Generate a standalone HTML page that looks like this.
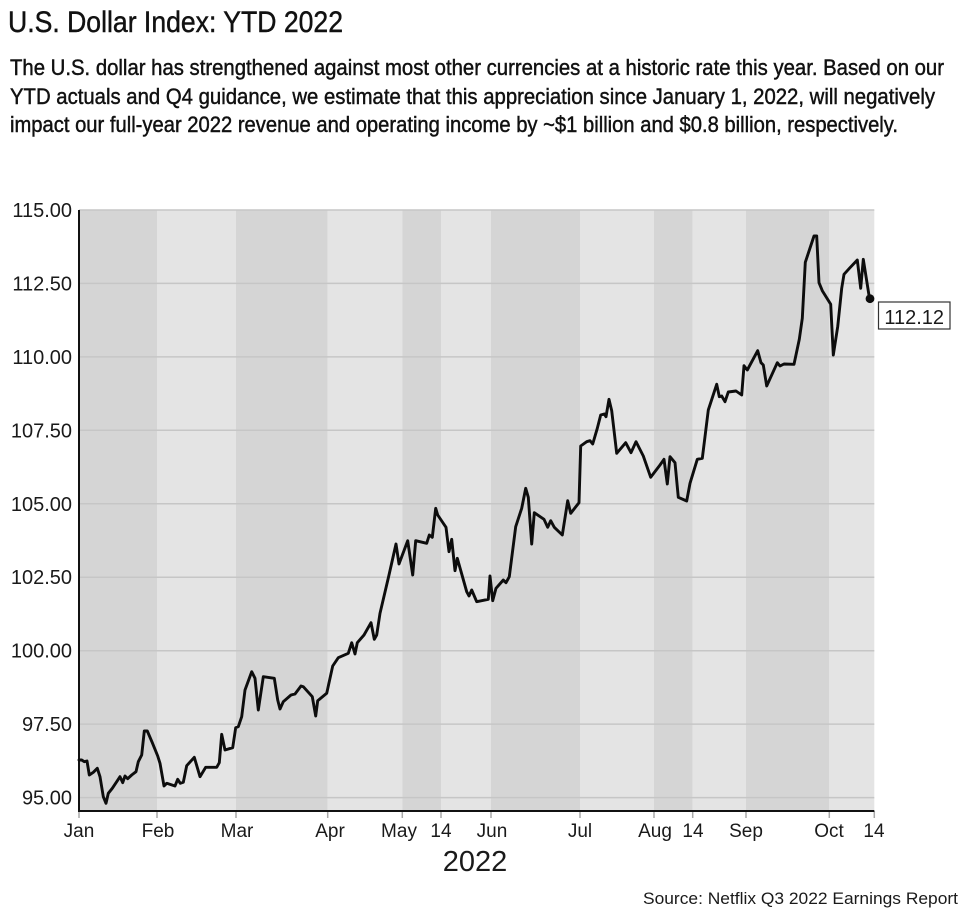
<!DOCTYPE html>
<html>
<head>
<meta charset="utf-8">
<style>
  html, body { margin: 0; padding: 0; background: #ffffff; }
  body { width: 961px; height: 910px; overflow: hidden; }
  svg { display: block; }
  .hand { font-family: "Liberation Sans", "DejaVu Sans", sans-serif; fill: #111; stroke: #111; stroke-width: 0.45; }
  .ax { font-family: "Liberation Sans", sans-serif; fill: #1a1a1a; }
</style>
</head>
<body>
<svg width="961" height="910" viewBox="0 0 961 910" xmlns="http://www.w3.org/2000/svg">
  <rect x="0" y="0" width="961" height="910" fill="#ffffff"/>

  <!-- Title & subtitle -->
  <text class="hand" x="8" y="32" font-size="30" textLength="335" lengthAdjust="spacingAndGlyphs">U.S. Dollar Index: YTD 2022</text>
  <text class="hand" x="10" y="75" font-size="22" textLength="934" lengthAdjust="spacingAndGlyphs">The U.S. dollar has strengthened against most other currencies at a historic rate this year. Based on our</text>
  <text class="hand" x="10" y="104" font-size="22" textLength="925" lengthAdjust="spacingAndGlyphs">YTD actuals and Q4 guidance, we estimate that this appreciation since January 1, 2022, will negatively</text>
  <text class="hand" x="10" y="132" font-size="22" textLength="888" lengthAdjust="spacingAndGlyphs">impact our full-year 2022 revenue and operating income by ~$1 billion and $0.8 billion, respectively.</text>

  <!-- Bands -->
  <g>
    <rect x="79" y="210" width="78" height="601" fill="#d5d5d5"/>
    <rect x="157" y="210" width="79" height="601" fill="#e4e4e4"/>
    <rect x="236" y="210" width="91.7" height="601" fill="#d5d5d5"/>
    <rect x="327.7" y="210" width="74.6" height="601" fill="#e4e4e4"/>
    <rect x="402.3" y="210" width="38.7" height="601" fill="#d5d5d5"/>
    <rect x="441" y="210" width="50" height="601" fill="#e4e4e4"/>
    <rect x="491" y="210" width="89" height="601" fill="#d5d5d5"/>
    <rect x="580" y="210" width="74" height="601" fill="#e4e4e4"/>
    <rect x="654" y="210" width="38.7" height="601" fill="#d5d5d5"/>
    <rect x="692.7" y="210" width="53.3" height="601" fill="#e4e4e4"/>
    <rect x="746" y="210" width="83.3" height="601" fill="#d5d5d5"/>
    <rect x="829.3" y="210" width="45" height="601" fill="#e4e4e4"/>
  </g>

  <!-- Gridlines -->
  <g stroke="#c6c6c6" stroke-width="1.5">
    <line x1="79" x2="874.3" y1="210" y2="210"/>
    <line x1="79" x2="874.3" y1="283.4" y2="283.4"/>
    <line x1="79" x2="874.3" y1="356.9" y2="356.9"/>
    <line x1="79" x2="874.3" y1="430.3" y2="430.3"/>
    <line x1="79" x2="874.3" y1="503.8" y2="503.8"/>
    <line x1="79" x2="874.3" y1="577.2" y2="577.2"/>
    <line x1="79" x2="874.3" y1="650.7" y2="650.7"/>
    <line x1="79" x2="874.3" y1="724.1" y2="724.1"/>
    <line x1="79" x2="874.3" y1="797.6" y2="797.6"/>
  </g>

  <!-- Y labels -->
  <g class="ax" font-size="20" text-anchor="end">
    <text x="72" y="217">115.00</text>
    <text x="72" y="290.4">112.50</text>
    <text x="72" y="363.9">110.00</text>
    <text x="72" y="437.3">107.50</text>
    <text x="72" y="510.8">105.00</text>
    <text x="72" y="584.2">102.50</text>
    <text x="72" y="657.7">100.00</text>
    <text x="72" y="731.1">97.50</text>
    <text x="72" y="804.6">95.00</text>
  </g>

  <!-- X ticks -->
  <g stroke="#a8a8a8" stroke-width="1.5">
    <line x1="79" x2="79" y1="811" y2="818"/>
    <line x1="157" x2="157" y1="811" y2="818"/>
    <line x1="236" x2="236" y1="811" y2="818"/>
    <line x1="327.7" x2="327.7" y1="811" y2="818"/>
    <line x1="402.3" x2="402.3" y1="811" y2="818"/>
    <line x1="441" x2="441" y1="811" y2="818"/>
    <line x1="491" x2="491" y1="811" y2="818"/>
    <line x1="580" x2="580" y1="811" y2="818"/>
    <line x1="654" x2="654" y1="811" y2="818"/>
    <line x1="692.7" x2="692.7" y1="811" y2="818"/>
    <line x1="746" x2="746" y1="811" y2="818"/>
    <line x1="829.3" x2="829.3" y1="811" y2="818"/>
    <line x1="874.3" x2="874.3" y1="811" y2="818"/>
  </g>

  <!-- X labels -->
  <g class="ax" font-size="19" text-anchor="middle">
    <text x="79" y="837">Jan</text>
    <text x="158" y="837">Feb</text>
    <text x="237" y="837">Mar</text>
    <text x="330" y="837">Apr</text>
    <text x="399" y="837">May</text>
    <text x="441" y="837">14</text>
    <text x="492" y="837">Jun</text>
    <text x="580" y="837">Jul</text>
    <text x="655" y="837">Aug</text>
    <text x="693" y="837">14</text>
    <text x="746" y="837">Sep</text>
    <text x="829" y="837">Oct</text>
    <text x="874" y="837">14</text>
  </g>
  <text class="ax" x="475" y="871" font-size="29" text-anchor="middle">2022</text>

  <!-- Axes -->
  <line x1="79" x2="79" y1="210" y2="812" stroke="#111" stroke-width="2"/>
  <line x1="78" x2="874.3" y1="811" y2="811" stroke="#111" stroke-width="2"/>

  <!-- Data line -->
  <polyline fill="none" stroke="#0d0d0d" stroke-width="2.9" stroke-linejoin="round" stroke-linecap="round"
    points="79,760 81.7,760 84.3,761.7 87,761 89.3,775 93.3,772.3 97.3,768.3 100,776.7 103.3,796.7 106,803.3 108.3,793.3 112.3,788.3 116.7,781.7 120,776.7 122.7,782.7 125,776 127.7,778.7 131.7,775 136,771.7 138.3,761.7 141.7,755 144.3,731 147.3,731 152.3,742.7 157.7,756 160,763.3 164,786 166.7,783.3 175,786 177.7,779.3 180.3,783.3 183.3,782.3 186.7,765.7 194.3,757.3 200,776.7 205.7,767.3 216.7,767.3 219.3,762.7 221.7,734.3 225,750 232.7,747.7 235.7,727.7 238.3,726.7 241.7,716.7 245,690 251.7,671.7 255,678.3 258.3,710 263.3,676.7 274.3,678.3 277.7,700 280,709 283.3,701.7 291,695 295,694 301,686 303.3,686.7 312.3,696.7 315.7,716 317.7,700.7 326.7,693.3 332.7,666 338.3,657.7 348.3,653.3 351.7,642.7 355,654 357.3,642.7 364,635 371,622.7 374.3,639.3 376.7,635 380,613.3 389,575 396,544 399,564 407.7,540.7 412.7,575 415.7,540.7 426.7,543.3 429.3,535 432.3,537.3 435.7,508.3 437.7,515 446,527.3 449,551.7 451.7,539.3 455,570.7 457.3,558.3 466.7,591.7 469,596 471.7,590 476.7,601.7 488.3,599.3 490,576 492.7,600.7 496,588.3 503.3,580 506,582.7 509.3,576.7 515.7,526.7 521.7,508.3 525.7,488.3 528.3,497.3 531.7,544 534.3,512.7 544,519.3 547.7,527.3 550.7,520.7 554.3,527.3 562.3,535 567.7,500.7 570.7,513.3 579,502.7 580.7,446 586.7,441.7 590,440.7 592.7,444 597.3,428.3 600.7,415 604.3,414 606,416.7 609,399.3 611.7,410.7 616.7,453.3 625.7,442.7 631,452.7 636,441.7 643.3,456 650.7,477.3 660,465 664,459.3 667.3,484 670,456.7 675,462.7 678.3,497.3 686.7,501 690,483.3 697.3,459.3 702.3,458.3 705,436.7 708.3,410 716.7,384.3 719.3,396.7 721.7,396 725,401.7 728.3,392 736,391 741.7,395 744,365.7 747.3,370 757.7,350.7 761,362.7 763.3,365 766.7,386 777.3,362.7 780,366 784,364 794,364.3 799.3,339.3 802.3,318.3 805.3,262.3 814,236 816.7,236 819,282.7 822.3,290.7 830.7,304.3 833.3,355 837.7,326.7 841.7,288.3 844,274.3 850,267.7 857.3,260 860.7,288.3 863.3,259.3 869.5,298.5"/>
  <circle cx="870" cy="298.7" r="4.4" fill="#0d0d0d"/>

  <!-- Last value label -->
  <rect x="878.5" y="302" width="71.5" height="27" fill="#ffffff" stroke="#333" stroke-width="1.2"/>
  <text class="ax" x="914.2" y="324" font-size="20" text-anchor="middle">112.12</text>

  <!-- Source -->
  <text class="ax" x="958" y="904" font-size="17" text-anchor="end" textLength="315" lengthAdjust="spacingAndGlyphs">Source: Netflix Q3 2022 Earnings Report</text>
</svg>
</body>
</html>
